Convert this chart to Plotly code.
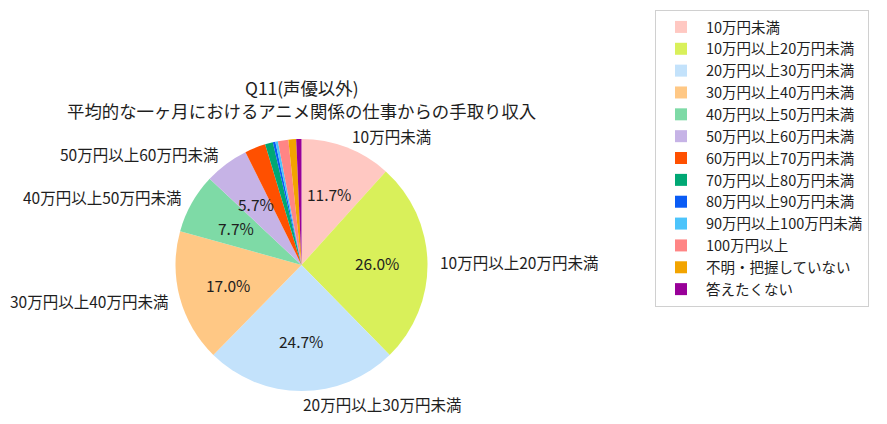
import numpy as np
import plotly.graph_objects as go

# --- data ---
categories = [
    '10万円未満', '10万円以上20万円未満', '20万円以上30万円未満', '30万円以上40万円未満',
    '40万円以上50万円未満', '50万円以上60万円未満', '60万円以上70万円未満', '70万円以上80万円未満',
    '80万円以上90万円未満', '90万円以上100万円未満', '100万円以上', '不明・把握していない', '答えたくない',
]
shares = [11.67, 26.0, 24.67, 17.0, 7.67, 5.67, 2.67, 1.0, 0.33, 0.33, 1.33, 1.0, 0.67]
colors = [
    '#ffc8c2', '#d9f05a', '#c3e2fb', '#ffc885', '#7edaa6', '#c6b3e6', '#ff5000',
    '#00a874', '#0a5cf5', '#4cc4fb', '#ff8585', '#f2a400', '#980098',
]
title_lines = ['Q11(声優以外)', '平均的な一ヶ月におけるアニメ関係の仕事からの手取り収入']

# the page body has an 8px margin, so the figure is drawn a bit smaller
OFF = 8
W, H = 887 - OFF, 424 - OFF
FONT = 'Noto Sans CJK JP'
TXT = '#1e1e1e'
min_label = 5.0  # slices smaller than this get no text


def px(x):
    return (x - OFF) / W


def py(y):
    return 1 - (y - OFF) / H


# pie centre / radius in page pixels
pcx, pcy, R = 301.5, 265, 126
dom_x = [px(pcx - R), px(pcx + R)]
dom_y = [py(pcy + R), py(pcy - R)]

fig = go.Figure()
fig.add_trace(go.Pie(
    labels=categories,
    values=shares,
    sort=False,
    direction='clockwise',
    rotation=0,
    marker=dict(colors=colors, line=dict(width=0)),
    textinfo='none',
    hoverinfo='label+percent',
    domain=dict(x=dom_x, y=dom_y),
))

# labels outside (1.1 R) and percentages inside (0.6 R), like matplotlib's pie
vals = np.array(shares)
pct = vals / vals.sum() * 100
mids = (np.cumsum(vals) - vals / 2) / vals.sum() * 2 * np.pi
annotations = []
for name, p, a in zip(categories, pct, mids):
    if p < min_label:
        continue
    sx, sy = np.sin(a), np.cos(a)
    annotations.append(dict(
        x=px(pcx + 1.08 * R * sx), y=py(pcy - 1.1 * R * sy),
        xref='paper', yref='paper', text=name, showarrow=False,
        xanchor='left' if sx > -1e-3 else 'right', yanchor='middle',
        font=dict(family=FONT, size=15.5, color=TXT),
    ))
    annotations.append(dict(
        x=px(pcx + 0.6 * R * sx), y=py(pcy - 0.6 * R * sy),
        xref='paper', yref='paper', text=f'{p:.1f}%', showarrow=False,
        xanchor='center', yanchor='middle',
        font=dict(family=FONT, size=15.5, color=TXT),
    ))

# two-line title
for line, ty in zip(title_lines, [87.5, 110]):
    annotations.append(dict(
        x=px(pcx), y=py(ty), xref='paper', yref='paper', text=line,
        showarrow=False, xanchor='center', yanchor='middle',
        font=dict(family=FONT, size=17.4, color=TXT),
    ))

fig.update_layout(
    width=W, height=H,
    margin=dict(l=0, r=0, t=0, b=0),
    paper_bgcolor='white',
    legend=dict(
        x=px(655), y=py(10), xanchor='left', yanchor='top',
        bordercolor='#d0d0d0', borderwidth=1,
        font=dict(family=FONT, size=14.5, color=TXT),
        itemwidth=40,
    ),
    annotations=annotations,
)

fig.write_html('out.html')
